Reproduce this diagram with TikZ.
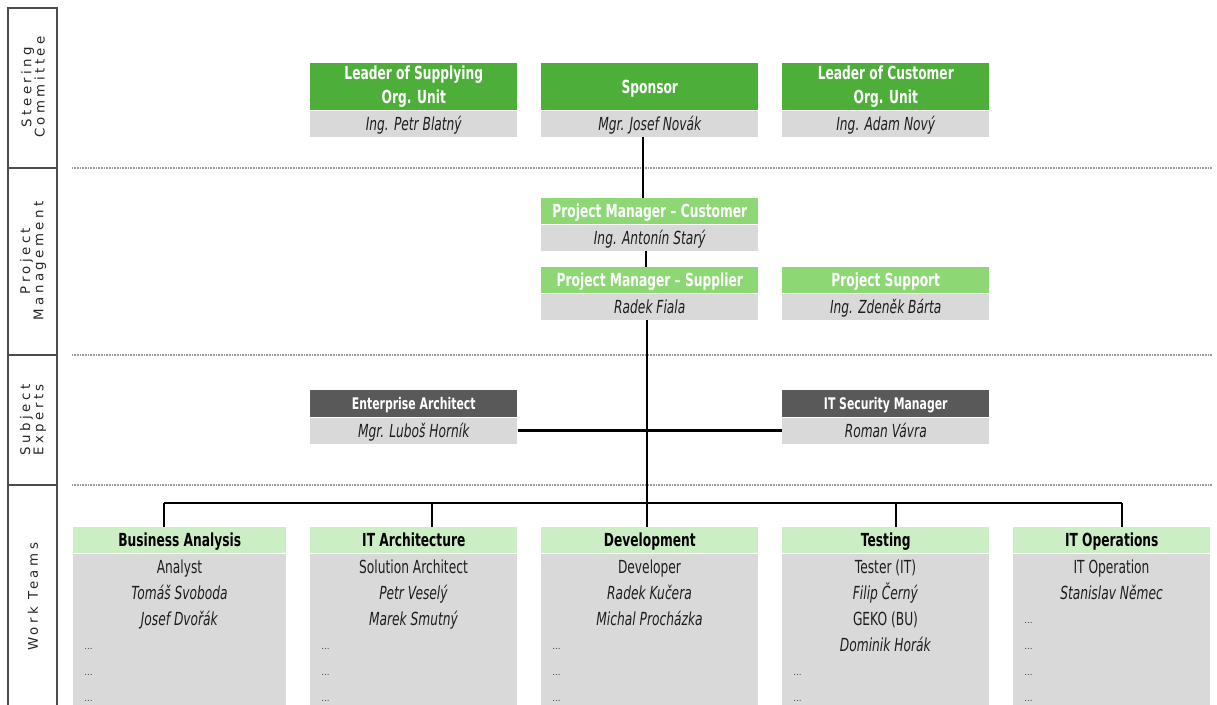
\documentclass[tikz,border=0pt]{standalone}
\usepackage{fontspec}
\setmainfont{DejaVu Sans}
\newfontfamily\cardfont{DejaVu Sans}[FakeStretch=0.68]
\newfontfamily\bandfont{DejaVu Sans}[LetterSpace=26]
\usetikzlibrary{positioning}
\definecolor{sgreen}{HTML}{4DAE3A}
\definecolor{pgreen}{HTML}{8DD875}
\definecolor{tgreen}{HTML}{CCEEC4}
\definecolor{cardgray}{HTML}{D9D9D9}
\definecolor{xgray}{HTML}{595959}
\definecolor{inkgray}{HTML}{1E1E1E}

\begin{document}
\begin{tikzpicture}[x=0.75pt,y=-0.75pt]
\tikzset{
    wd/.style={minimum width=#1*0.75pt},
    oneline/.style={text height=9.6pt, text depth=0pt},
    hdbig/.style={anchor=north west, fill=sgreen, text=white, inner sep=0pt,
        minimum height=35.25pt, align=center,
        execute at begin node={\rule{0pt}{13.2pt}},
        font=\cardfont\bfseries\fontsize{13.5}{18}\selectfont},
    hdsmall/.style={anchor=north west, text=white, inner sep=0pt, oneline,
        minimum height=19.5pt, font=\cardfont\bfseries\fontsize{13.5}{16}\selectfont},
    namebox/.style={fill=cardgray, text=inkgray, inner sep=0pt, oneline,
        minimum height=19.5pt, font=\cardfont\itshape\fontsize{13.5}{16}\selectfont},
    teamhd/.style={anchor=north west, fill=tgreen, text=black, inner sep=0pt, oneline,
        minimum height=19.5pt, font=\cardfont\bfseries\fontsize{13.5}{16}\selectfont},
    teambody/.style={fill=cardgray, inner sep=0pt, minimum height=114pt},
    teamline/.style={anchor=base, inner sep=0pt, text=inkgray,
        font=\cardfont\fontsize{13.5}{16}\selectfont},
    dots/.style={anchor=base west, inner sep=0pt, text=black!75,
        font=\fontsize{6.5}{7}\selectfont},
    band/.style={rotate=90, align=center, text=black!85,
        font=\bandfont\fontsize{10}{10}\selectfont},
    sep/.style={draw=black!40, line width=0.8pt, dash pattern=on 0.8pt off 0.4pt},
    conn/.style={draw=black, line width=1.2pt},
}
\useasboundingbox (0,0) rectangle (1217,705);

% left band with the four levels
\draw[black!70, line width=0.8pt] (8,705) -- (8,8) -- (57,8) -- (57,705);
\foreach \y in {168,355,485}{
    \draw[black!70, line width=0.8pt] (8,\y) -- (57,\y);
    \draw[sep] (72,\y) -- (1212,\y);
}
\node[band] (bandSC) at (33,87) {Steering\\Committee};
\node[band] (bandPM) at (33,261) {Project\\Management};
\node[band] (bandSE) at (33,420) {Subject\\Experts};
\node[band] (bandWT) at (33,597) {Work Teams};

% steering committee
\node[hdbig, wd=207] (lsH) at (310,63) {Leader of Supplying\\Org. Unit};
\node[namebox, wd=207, below=0pt of lsH] (lsN) {Ing. Petr Blatný};
\node[hdbig, wd=217] (spH) at (541,63) {Sponsor};
\node[namebox, wd=217, below=0pt of spH] (spN) {Mgr. Josef Novák};
\node[hdbig, wd=207] (lcH) at (782,63) {Leader of Customer\\Org. Unit};
\node[namebox, wd=207, below=0pt of lcH] (lcN) {Ing. Adam Nový};

% project management
\node[hdsmall, fill=pgreen, wd=217] (pcH) at (541,198) {Project Manager – Customer};
\node[namebox, wd=217, below=0pt of pcH] (pcN) {Ing. Antonín Starý};
\node[hdsmall, fill=pgreen, wd=217] (psH) at (541,267) {Project Manager – Supplier};
\node[namebox, wd=217, below=0pt of psH] (psN) {Radek Fiala};
\node[hdsmall, fill=pgreen, wd=207] (suH) at (782,267) {Project Support};
\node[namebox, wd=207, below=0pt of suH] (suN) {Ing. Zdeněk Bárta};

% subject experts
\node[hdsmall, fill=xgray, wd=207, minimum height=20.25pt, text height=8.6pt,
      font=\cardfont\bfseries\fontsize{12}{14}\selectfont] (eaH) at (310,390) {Enterprise Architect};
\node[namebox, wd=207, below=0pt of eaH] (eaN) {Mgr. Luboš Horník};
\node[hdsmall, fill=xgray, wd=207, minimum height=20.25pt, text height=8.6pt,
      font=\cardfont\bfseries\fontsize{12}{14}\selectfont] (isH) at (782,390) {IT Security Manager};
\node[namebox, wd=207, below=0pt of isH] (isN) {Roman Vávra};

% work teams
\foreach \id/\xl/\w/\dx/\hd/\nl/\rows in {
    ba/73/213/164/Business Analysis/3/{Analyst,\textit{Tomáš Svoboda},\textit{Josef Dvořák}},
    ia/310/207/432/IT Architecture/3/{Solution Architect,\textit{Petr Veselý},\textit{Marek Smutný}},
    dv/541/217/647/Development/3/{Developer,\textit{Radek Kučera},\textit{Michal Procházka}},
    ts/782/207/896/Testing/4/{Tester (IT),\textit{Filip Černý},GEKO (BU),\textit{Dominik Horák}},
    op/1013/197/1122/IT Operations/2/{IT Operation,\textit{Stanislav Němec}}}{
    \node[teamhd, wd=\w] (\id H) at (\xl,527) {\hd};
    \node[teambody, wd=\w, below=0pt of \id H] (\id B) {};
    \foreach \t [count=\r from 0] in \rows
        \node[teamline] (\id L\r) at (\xl+\w/2, 573+26*\r) {\t};
    \foreach \r in {\nl,...,5}
        \node[dots] (\id D\r) at (\xl+11, 571+26*\r) {...};
    \coordinate (\id T) at (\dx,503);
    \draw[conn] (\id T) -- (\id T |- \id H.north);
}

% connectors
\coordinate (topX) at (643,0);
\coordinate (midX) at (646,0);
\draw[conn] (spN.south -| topX) -- (pcH.north -| topX);
\draw[conn] (pcN.south -| midX) -- (psH.north -| midX);
\draw[conn] (psN.south -| dvT) -- (dvT);
\draw[conn] (baT) -- (opT);
\draw[draw=black, line width=2pt] (eaN.east) -- (isN.west);

\end{tikzpicture}
\end{document}
